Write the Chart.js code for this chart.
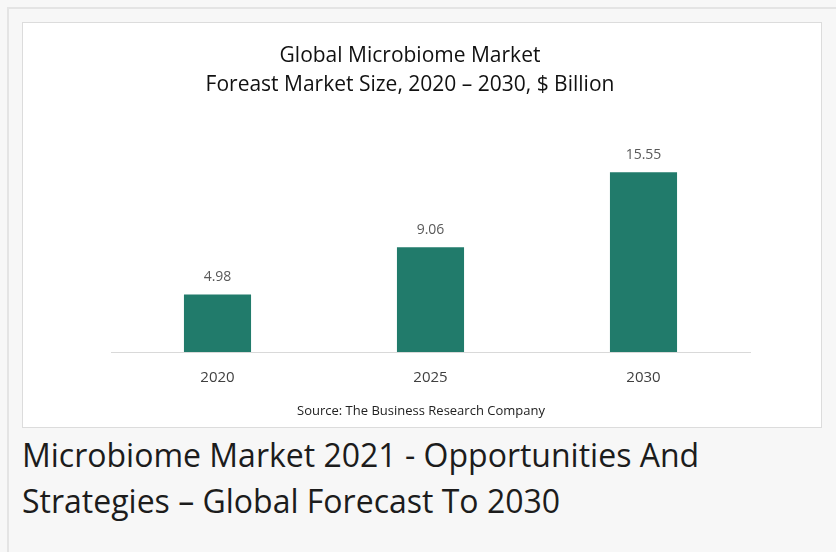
<!DOCTYPE html>
<html>
<head>
<meta charset="utf-8">
<script src="https://cdn.jsdelivr.net/npm/chart.js@4.4.0/dist/chart.umd.min.js"></script>
<style>
  html, body { margin: 0; padding: 0; }
  body { width: 836px; height: 552px; background: #f7f7f7; position: relative; overflow: hidden; font-family: "Open Sans", sans-serif; }
  .frame { position: absolute; left: 7px; top: 7px; width: 840px; height: 560px; border: 2px solid #e4e4e4; box-sizing: border-box; }
  .box { position: absolute; left: 22px; top: 22px; width: 800px; height: 406px; background: #fff; border: 1px solid #dcdcdc; box-sizing: border-box; }
  canvas { position: absolute; left: 0; top: 0; }
  .heading { position: absolute; left: 22px; top: 432px; width: 810px; font-size: 32px; line-height: 46px; color: #1c1c1c; white-space: nowrap; }
</style>
</head>
<body>
<div class="frame"></div>
<div class="box"><canvas id="chart" width="800" height="406"></canvas></div>
<div class="heading">Microbiome Market 2021 - Opportunities And<br>Strategies – Global Forecast To 2030</div>
<script>
// chart data
const years = ['2020', '2025', '2030'];
const marketSize = [4.98, 9.06, 15.55];
const titleLines = ['Global Microbiome Market', 'Foreast Market Size, 2020 – 2030, $ Billion'];
const sourceText = 'Source: The Business Research Company';

// titles, value labels and the source line
const textPlugin = {
  id: 'texts',
  afterDraw(chart) {
    const ctx = chart.ctx;
    ctx.save();
    ctx.textAlign = 'center';
    ctx.textBaseline = 'middle';

    ctx.fillStyle = '#111';
    ctx.font = '21px "Open Sans"';
    ctx.fillText(titleLines[0], 387, 33);
    ctx.fillText(titleLines[1], 387, 62);

    ctx.fillStyle = '#595959';
    ctx.font = '14px "Open Sans"';
    chart.getDatasetMeta(0).data.forEach((bar, i) => {
      ctx.fillText(marketSize[i].toFixed(2), bar.x, bar.y - 17);
    });

    ctx.fillStyle = '#222';
    ctx.font = '13px "Open Sans"';
    ctx.fillText(sourceText, 398, 388);
    ctx.restore();
  }
};

new Chart(document.getElementById('chart'), {
  type: 'bar',
  data: {
    labels: years,
    datasets: [{
      data: marketSize,
      backgroundColor: '#217b6b',
      categoryPercentage: 1,
      barPercentage: 0.315
    }]
  },
  options: {
    responsive: false,
    animation: false,
    layout: { padding: { left: 88, right: 73, top: 121, bottom: 25 } },
    plugins: {
      legend: { display: false },
      tooltip: { enabled: false }
    },
    scales: {
      x: {
        grid: { color: 'transparent', drawTicks: false },
        border: { display: true, color: '#d9d9d9', width: 1 },
        ticks: { color: '#404040', font: { family: 'Open Sans', size: 15 }, padding: 17 }
      },
      y: { display: false, min: 0, max: 18 }
    }
  },
  plugins: [textPlugin]
});
</script>
</body>
</html>
